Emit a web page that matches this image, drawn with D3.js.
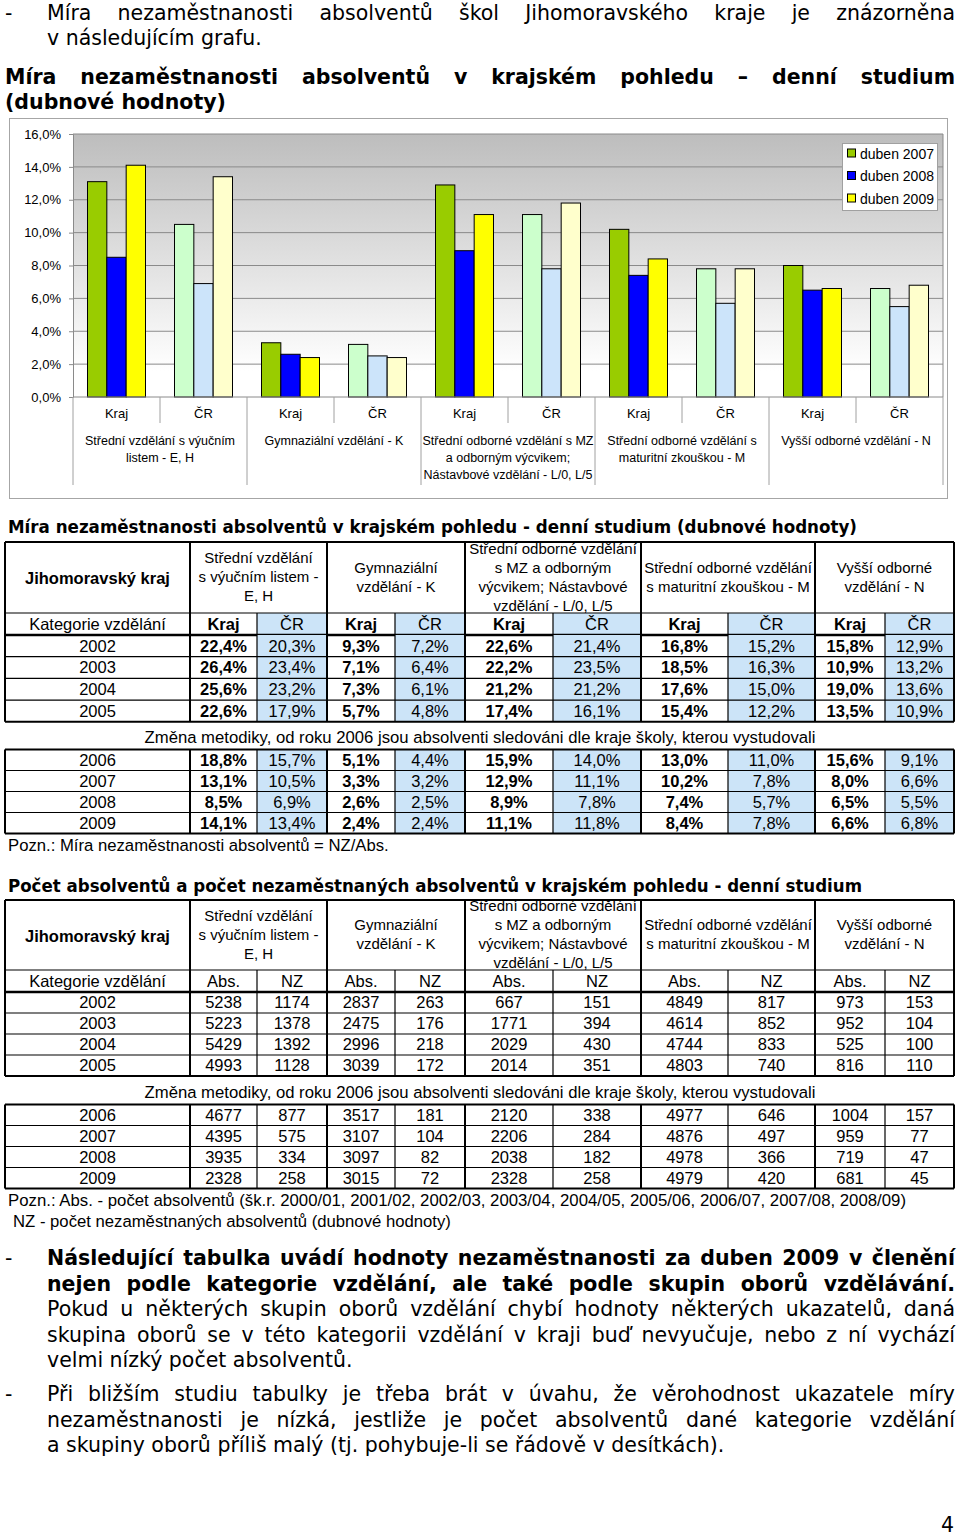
<!DOCTYPE html>
<html><head><meta charset="utf-8">
<script src="https://cdn.jsdelivr.net/npm/d3@7"></script>
<style>body{margin:0;background:#fff}svg{display:block}</style>
</head><body><svg id="c" width="960" height="1540"></svg>
<script>
// ---------------- DATA ----------------
const seriesNames = ["duben 2007", "duben 2008", "duben 2009"];
const subLabels = ["Kraj", "ČR"];
const chartGroupLabels = [
  ["Střední vzdělání s výučním", "listem - E, H"],
  ["Gymnaziální vzdělání - K"],
  ["Střední odborné vzdělání s MZ", "a odborným výcvikem;", "Nástavbové vzdělání - L/0, L/5"],
  ["Střední odborné vzdělání s", "maturitní zkouškou - M"],
  ["Vyšší odborné vzdělání - N"]
];
const yTickValues = [0, 2, 4, 6, 8, 10, 12, 14, 16];
const tableGroupLabels = [
  ["Střední vzdělání", "s výučním listem -", "E, H"],
  ["Gymnaziální", "vzdělání - K"],
  ["Střední odborné vzdělání", "s MZ a odborným", "výcvikem; Nástavbové", "vzdělání - L/0, L/5"],
  ["Střední odborné vzdělání", "s maturitní zkouškou - M"],
  ["Vyšší odborné", "vzdělání - N"]
];
const countSubLabels = ["Abs.", "NZ"];
const yearsA = ["2002", "2003", "2004", "2005"];
const yearsB = ["2006", "2007", "2008", "2009"];
// unemployment rate (%) : Kraj, ČR for each of 5 education categories
const rate2002 = [22.4, 20.3, 9.3, 7.2, 22.6, 21.4, 16.8, 15.2, 15.8, 12.9];
const rate2003 = [26.4, 23.4, 7.1, 6.4, 22.2, 23.5, 18.5, 16.3, 10.9, 13.2];
const rate2004 = [25.6, 23.2, 7.3, 6.1, 21.2, 21.2, 17.6, 15.0, 19.0, 13.6];
const rate2005 = [22.6, 17.9, 5.7, 4.8, 17.4, 16.1, 15.4, 12.2, 13.5, 10.9];
const rate2006 = [18.8, 15.7, 5.1, 4.4, 15.9, 14.0, 13.0, 11.0, 15.6, 9.1];
const rate2007 = [13.1, 10.5, 3.3, 3.2, 12.9, 11.1, 10.2, 7.8, 8.0, 6.6];
const rate2008 = [8.5, 6.9, 2.6, 2.5, 8.9, 7.8, 7.4, 5.7, 6.5, 5.5];
const rate2009 = [14.1, 13.4, 2.4, 2.4, 11.1, 11.8, 8.4, 7.8, 6.6, 6.8];
// counts : Abs., NZ for each of 5 education categories
const count2002 = [5238, 1174, 2837, 263, 667, 151, 4849, 817, 973, 153];
const count2003 = [5223, 1378, 2475, 176, 1771, 394, 4614, 852, 952, 104];
const count2004 = [5429, 1392, 2996, 218, 2029, 430, 4744, 833, 525, 100];
const count2005 = [4993, 1128, 3039, 172, 2014, 351, 4803, 740, 816, 110];
const count2006 = [4677, 877, 3517, 181, 2120, 338, 4977, 646, 1004, 157];
const count2007 = [4395, 575, 3107, 104, 2206, 284, 4876, 497, 959, 77];
const count2008 = [3935, 334, 3097, 82, 2038, 182, 4978, 366, 719, 47];
const count2009 = [2328, 258, 3015, 72, 2328, 258, 4979, 420, 681, 45];

// ---------------- SETUP ----------------
const svg = d3.select("#c");
svg.append("rect").attr("width", 960).attr("height", 1540).attr("fill", "#fff");
const BODY = "'DejaVu Sans', sans-serif";
const ARIAL = "'Liberation Sans', Arial, sans-serif";
const NARROW = "'Liberation Sans Narrow', 'Arial Narrow', 'Liberation Sans', sans-serif";
const BS = 20.5;   // body text size
const TS = 16.5;   // table text size

function txt(g, str, x, y, o = {}) {
  const t = g.append("text").attr("x", x).attr("y", y)
    .attr("font-family", o.family || BODY)
    .attr("font-size", o.size || BS)
    .attr("font-weight", o.weight || "normal")
    .attr("text-anchor", o.anchor || "start")
    .attr("fill", o.fill || "#000")
    .text(str);
  if (o.width) {
    const nat = t.node().getComputedTextLength();
    const gaps = (str.match(/ /g) || []).length;
    if (o.justify && nat < o.width && gaps) t.attr("word-spacing", (o.width - nat) / gaps);
    else t.attr("textLength", o.width).attr("lengthAdjust", "spacingAndGlyphs");
  }
  return t;
}

// ---------------- TOP TEXT ----------------
const topText = svg.append("g");
txt(topText, "-", 5, 20, {});
txt(topText, "Míra nezaměstnanosti absolventů škol Jihomoravského kraje je znázorněna", 47, 20, {width: 908, justify: true});
txt(topText, "v následujícím grafu.", 47, 45, {});
txt(topText, "Míra nezaměstnanosti absolventů v krajském pohledu – denní studium", 5, 84, {weight: "bold", size: 20.5, width: 950, justify: true});
txt(topText, "(dubnové hodnoty)", 5, 109, {weight: "bold", size: 20.5});

// ---------------- CHART ----------------
const chart = svg.append("g");
chart.append("rect").attr("x", 9.5).attr("y", 118.5).attr("width", 938).attr("height", 380)
  .attr("fill", "#fff").attr("stroke", "#a6a6a6");
const P = {l: 73, r: 943, t: 134, b: 397};
const defs = svg.append("defs");
const grad = defs.append("linearGradient").attr("id", "bg").attr("x1", 0).attr("y1", 0).attr("x2", 0).attr("y2", 1);
grad.append("stop").attr("offset", 0).attr("stop-color", "#bdbdbd");
grad.append("stop").attr("offset", 0.9).attr("stop-color", "#ffffff");
chart.append("rect").attr("x", P.l).attr("y", P.t).attr("width", P.r - P.l).attr("height", P.b - P.t).attr("fill", "url(#bg)");

const y = d3.scaleLinear().domain([0, 16]).range([P.b, P.t]);
const cats = d3.range(10);
const x0 = d3.scaleBand().domain(cats).range([P.l, P.r]);
const x1 = d3.scaleBand().domain([0, 1, 2]).range([0, x0.bandwidth()]).paddingOuter(0.75);

// gridlines
chart.append("g").selectAll("line").data(yTickValues.filter(v => v > 0)).join("line")
  .attr("x1", P.l).attr("x2", P.r).attr("y1", d => y(d)).attr("y2", d => y(d))
  .attr("stroke", "#8a8a8a").attr("stroke-width", 1);
chart.append("line").attr("x1", P.r).attr("x2", P.r).attr("y1", P.t).attr("y2", P.b).attr("stroke", "#8a8a8a");

// y axis
const yAxis = d3.axisLeft(y).tickValues(yTickValues).tickSize(4).tickPadding(8)
  .tickFormat(d => d3.format(".1f")(d).replace(".", ",") + "%");
const ya = chart.append("g").attr("transform", `translate(${P.l},0)`).call(yAxis);
ya.select(".domain").attr("stroke", "#8a8a8a");
ya.selectAll(".tick line").attr("stroke", "#8a8a8a");
ya.selectAll("text").attr("font-family", ARIAL).attr("font-size", 13).attr("fill", "#000");

// bars
const seriesRates = [rate2007, rate2008, rate2009];
const colKraj = ["#99cc00", "#0000ff", "#ffff00"];
const colCR = ["#ccffcc", "#cce4fa", "#ffffcc"];
const barData = [];
cats.forEach(c => seriesRates.forEach((arr, s) => barData.push({c, s, v: arr[c]})));
chart.append("g").selectAll("rect").data(barData).join("rect")
  .attr("x", d => x0(d.c) + x1(d.s)).attr("width", x1.bandwidth())
  .attr("y", d => y(d.v)).attr("height", d => y(0) - y(d.v))
  .attr("fill", d => (d.c % 2 === 0 ? colKraj : colCR)[d.s])
  .attr("stroke", "#000").attr("stroke-width", 1);

// x axis line & separators
chart.append("line").attr("x1", P.l).attr("x2", P.r).attr("y1", P.b).attr("y2", P.b).attr("stroke", "#8a8a8a");
const bounds = d3.range(11);
chart.append("g").selectAll("line").data(bounds).join("line")
  .attr("x1", k => k < 10 ? x0(k) : P.r).attr("x2", k => k < 10 ? x0(k) : P.r)
  .attr("y1", P.b).attr("y2", k => k % 2 === 0 ? 485 : 423)
  .attr("stroke", "#a0a0a0");
chart.append("g").selectAll("text").data(cats).join("text")
  .attr("x", c => x0(c) + x0.bandwidth() / 2).attr("y", 418)
  .attr("text-anchor", "middle").attr("font-family", NARROW).attr("font-size", 13)
  .text(c => subLabels[c % 2]);
chartGroupLabels.forEach((lines, g) => {
  const cx = x0(2 * g) + x0.bandwidth();
  lines.forEach((ln, i) => txt(chart, ln, cx, 444.5 + i * 17, {family: NARROW, size: 12.5, anchor: "middle"}));
});

// legend
const lg = chart.append("g");
lg.append("rect").attr("x", 842.5).attr("y", 143.5).attr("width", 95).attr("height", 67)
  .attr("fill", "#fff").attr("stroke", "#a0a0a0");
seriesNames.forEach((n, i) => {
  const cy = 153.5 + i * 22.5;
  lg.append("rect").attr("x", 847.5).attr("y", cy - 4.5).attr("width", 8).attr("height", 8)
    .attr("fill", colKraj[i]).attr("stroke", "#000");
  txt(lg, n, 860, cy + 5, {family: ARIAL, size: 14});
});

// ---------------- TABLES ----------------
const colX = [5, 190, 257, 327, 395, 465, 553, 641, 728, 815, 885, 954];
const BLUE = "#cce4f8";
function hline(g, xa, xb, yy, w) {
  g.append("line").attr("x1", xa).attr("x2", xb).attr("y1", yy).attr("y2", yy).attr("stroke", "#000").attr("stroke-width", w);
}
function vline(g, xx, ya_, yb, w) {
  g.append("line").attr("x1", xx).attr("x2", xx).attr("y1", ya_).attr("y2", yb).attr("stroke", "#000").attr("stroke-width", w);
}
function cellText(g, str, cx, cy, bold, size) {
  const s = size || TS;
  return txt(g, str, cx, cy + s * 0.36, {family: ARIAL, size: s, anchor: "middle", weight: bold ? "bold" : "normal"});
}
function header(topY, hdrH, subH, subs, isRate) {
  const g = svg.append("g");
  const mid = topY + hdrH / 2;
  const sTop = topY + hdrH, sBot = sTop + subH;
  if (isRate) {
    for (let k = 0; k < 5; k++) g.append("rect").attr("x", colX[2 + 2 * k]).attr("y", sTop).attr("width", colX[3 + 2 * k] - colX[2 + 2 * k]).attr("height", subH).attr("fill", BLUE);
  }
  cellText(g, "Jihomoravský kraj", (colX[0] + colX[1]) / 2, mid + 1, true);
  tableGroupLabels.forEach((lines, k) => {
    const cx = (colX[1 + 2 * k] + colX[3 + 2 * k]) / 2;
    const y0 = mid - (lines.length - 1) * 19 / 2 - 0.5;
    lines.forEach((ln, i) => cellText(g, ln, cx, y0 + i * 19, false, 15));
  });
  cellText(g, "Kategorie vzdělání", (colX[0] + colX[1]) / 2, sTop + subH / 2, false);
  for (let c = 0; c < 10; c++) {
    cellText(g, subs[c % 2], (colX[1 + c] + colX[2 + c]) / 2, sTop + subH / 2, isRate && c % 2 === 0);
  }
  hline(g, colX[0], colX[11], topY, 2);
  hline(g, colX[0], colX[11], sTop, 1.2);
  hline(g, colX[0], colX[11], sBot, 2.5);
  [0, 1, 3, 5, 7, 9, 11].forEach(i => vline(g, colX[i], topY, sBot, 2));
  [2, 4, 6, 8, 10].forEach(i => vline(g, colX[i], sTop, sBot, 1.2));
}
function body(topY, rowH, years, rows, isRate, closeTop) {
  const g = svg.append("g");
  const bot = topY + rowH * years.length;
  if (isRate) {
    for (let k = 0; k < 5; k++) g.append("rect").attr("x", colX[2 + 2 * k]).attr("y", topY).attr("width", colX[3 + 2 * k] - colX[2 + 2 * k]).attr("height", bot - topY).attr("fill", BLUE);
  }
  const fmt = isRate ? (v => d3.format(".1f")(v).replace(".", ",") + "%") : (v => String(v));
  years.forEach((yr, r) => {
    const cy = topY + rowH * r + rowH / 2;
    cellText(g, yr, (colX[0] + colX[1]) / 2, cy, false);
    rows[r].forEach((v, c) => cellText(g, fmt(v), (colX[1 + c] + colX[2 + c]) / 2, cy, isRate && c % 2 === 0));
    if (r > 0) hline(g, colX[0], colX[11], topY + rowH * r, 1.2);
  });
  if (closeTop) hline(g, colX[0], colX[11], topY, 2);
  hline(g, colX[0], colX[11], bot, 2);
  [0, 1, 3, 5, 7, 9, 11].forEach(i => vline(g, colX[i], topY, bot, 2));
  [2, 4, 6, 8, 10].forEach(i => vline(g, colX[i], topY, bot, 1.2));
}

const NOTE = 16.7;
// Table 1
txt(svg, "Míra nezaměstnanosti absolventů v krajském pohledu - denní studium (dubnové hodnoty)", 8, 533,
  {family: BODY, weight: "bold", size: 17, width: 849});
header(542, 71, 22, subLabels, true);
body(635, 21.7, yearsA, [rate2002, rate2003, rate2004, rate2005], true, false);
txt(svg, "Změna metodiky, od roku 2006 jsou absolventi sledováni dle kraje školy, kterou vystudovali", 480, 743,
  {family: ARIAL, size: NOTE, anchor: "middle"});
body(749.5, 21, yearsB, [rate2006, rate2007, rate2008, rate2009], true, true);
txt(svg, "Pozn.: Míra nezaměstnanosti absolventů = NZ/Abs.", 8, 851, {family: ARIAL, size: NOTE});

// Table 2
txt(svg, "Počet absolventů a počet nezaměstnaných absolventů v krajském pohledu - denní studium", 8, 892,
  {family: BODY, weight: "bold", size: 17, width: 854});
header(900, 70, 22, countSubLabels, false);
body(992, 21, yearsA, [count2002, count2003, count2004, count2005], false, false);
txt(svg, "Změna metodiky, od roku 2006 jsou absolventi sledováni dle kraje školy, kterou vystudovali", 480, 1098,
  {family: ARIAL, size: NOTE, anchor: "middle"});
body(1104.5, 21, yearsB, [count2006, count2007, count2008, count2009], false, true);
txt(svg, "Pozn.: Abs. - počet absolventů (šk.r. 2000/01, 2001/02, 2002/03, 2003/04, 2004/05, 2005/06, 2006/07, 2007/08, 2008/09)", 8, 1206,
  {family: ARIAL, size: NOTE, width: 898});
txt(svg, "NZ - počet nezaměstnaných absolventů (dubnové hodnoty)", 13, 1227, {family: ARIAL, size: NOTE});

// ---------------- BOTTOM TEXT ----------------
const bt = svg.append("g");
txt(bt, "-", 5, 1265, {});
txt(bt, "Následující tabulka uvádí hodnoty nezaměstnanosti za duben 2009 v členění", 47, 1265, {weight: "bold", width: 908, justify: true});
txt(bt, "nejen podle kategorie vzdělání, ale také podle skupin oborů vzdělávání.", 47, 1291, {weight: "bold", width: 908, justify: true});
txt(bt, "Pokud u některých skupin oborů vzdělání chybí hodnoty některých ukazatelů, daná", 47, 1316, {width: 908, justify: true});
txt(bt, "skupina oborů se v této kategorii vzdělání v kraji buď nevyučuje, nebo z ní vychází", 47, 1342, {width: 908, justify: true});
txt(bt, "velmi nízký počet absolventů.", 47, 1367, {});
txt(bt, "-", 5, 1401, {});
txt(bt, "Při bližším studiu tabulky je třeba brát v úvahu, že věrohodnost ukazatele míry", 47, 1401, {width: 908, justify: true});
txt(bt, "nezaměstnanosti je nízká, jestliže je počet absolventů dané kategorie vzdělání", 47, 1427, {width: 908, justify: true});
txt(bt, "a skupiny oborů příliš malý (tj. pohybuje-li se řádově v desítkách).", 47, 1452, {});
txt(bt, "4", 954, 1532, {anchor: "end"});
</script></body></html>
